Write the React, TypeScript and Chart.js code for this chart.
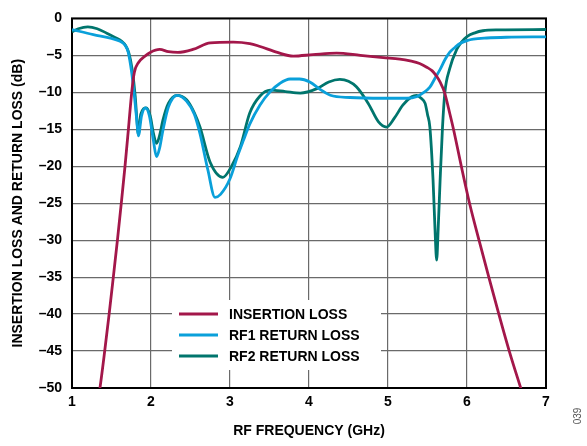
import React, { useEffect, useRef } from "react";
import { Chart, registerables } from "chart.js";

Chart.register(...registerables);

const insertionFreq = [1.31, 1.354, 1.414, 1.470, 1.523, 1.575, 1.624, 1.671, 1.714, 1.756, 1.789, 1.84, 1.924, 1.99, 2.11, 2.22, 2.34, 2.53, 2.75, 3.04, 3.25, 3.38, 3.60, 3.80, 4.05, 4.35, 4.65, 4.94, 5.15, 5.28, 5.40, 5.49, 5.56, 5.62, 5.658, 5.715, 5.785, 5.829, 5.928, 6.032, 6.152, 6.276, 6.403, 6.535, 6.680, 6.718];
const insertionLoss = [-53, -50, -45, -40, -35, -30, -25, -20, -15, -10, -7.3, -6.0, -5.1, -4.6, -4.2, -4.5, -4.6, -4.2, -3.3, -3.2, -3.4, -3.8, -4.6, -5.1, -4.9, -4.7, -5.0, -5.3, -5.5, -5.75, -6.1, -6.6, -7.1, -7.9, -8.6, -10.0, -13.0, -15.0, -20.0, -25.0, -30.0, -35.0, -40.0, -45.0, -50.0, -51.3];

const rf1Freq = [1.0, 1.27, 1.50, 1.61, 1.67, 1.71, 1.755, 1.79, 1.82, 1.84, 1.88, 1.93, 1.98, 2.03, 2.07, 2.11, 2.15, 2.22, 2.33, 2.45, 2.55, 2.62, 2.72, 2.81, 2.88, 3.0, 3.10, 3.17, 3.25, 3.38, 3.51, 3.63, 3.76, 3.88, 4.01, 4.14, 4.27, 4.52, 4.94, 5.24, 5.36, 5.44, 5.53, 5.60, 5.66, 5.72, 5.78, 5.85, 5.91, 6.0, 6.08, 6.25, 6.5, 7.0];
const rf1ReturnLoss = [-1.5, -2.2, -2.7, -3.1, -3.6, -4.5, -7.3, -10.5, -13.8, -15.9, -13.2, -12.1, -13.2, -16.5, -18.7, -17.5, -15.2, -12.0, -10.4, -11.2, -13.0, -15.6, -20.5, -24.2, -23.8, -21.7, -18.5, -16.5, -14.3, -11.7, -9.9, -8.8, -8.2, -8.2, -8.6, -9.6, -10.4, -10.7, -10.8, -10.8, -10.6, -10.1, -9.3, -8.0, -6.9, -5.6, -4.6, -3.9, -3.4, -3.0, -2.8, -2.65, -2.55, -2.5];

const rf2Freq = [1.0, 1.08, 1.20, 1.32, 1.44, 1.55, 1.63, 1.68, 1.72, 1.76, 1.80, 1.82, 1.84, 1.87, 1.94, 1.99, 2.03, 2.07, 2.11, 2.15, 2.22, 2.33, 2.45, 2.55, 2.62, 2.75, 2.91, 3.02, 3.13, 3.25, 3.38, 3.51, 3.70, 3.89, 4.10, 4.25, 4.39, 4.50, 4.60, 4.75, 4.88, 4.98, 5.08, 5.19, 5.30, 5.36, 5.42, 5.47, 5.50, 5.53, 5.57, 5.595, 5.616, 5.635, 5.66, 5.69, 5.72, 5.78, 5.87, 5.93, 6.0, 6.10, 6.20, 6.4, 7.0];
const rf2ReturnLoss = [-1.8, -1.4, -1.15, -1.4, -2.0, -2.6, -3.1, -3.7, -4.7, -6.8, -10.5, -13.5, -15.7, -13.0, -12.1, -13.2, -15.5, -16.9, -15.8, -13.8, -11.5, -10.4, -11.0, -12.8, -14.7, -19.5, -21.5, -20.0, -17.4, -12.8, -10.5, -9.7, -9.9, -10.1, -9.5, -8.6, -8.25, -8.5, -9.25, -11.5, -14.0, -14.7, -13.5, -11.7, -10.6, -10.4, -10.8, -11.5, -13.0, -14.7, -21.8, -28.5, -32.7, -28.5, -21.8, -14.7, -10.0, -6.84, -4.2, -3.2, -2.45, -1.95, -1.67, -1.55, -1.5];

const seriesNames = ["INSERTION LOSS", "RF1 RETURN LOSS", "RF2 RETURN LOSS"];
const seriesColors = ["#a3174a", "#0aa0da", "#00756d"];

const xTicks = [1, 2, 3, 4, 5, 6, 7];
const yTicks = [0, -5, -10, -15, -20, -25, -30, -35, -40, -45, -50];

const FONT = '"Liberation Sans", Arial, sans-serif';

const toPoints = (xs: number[], ys: number[]) => xs.map((x, i) => ({ x, y: ys[i] }));

export default function App() {
  const ref = useRef<HTMLCanvasElement | null>(null);

  useEffect(() => {
    const canvas = ref.current;
    if (!canvas) return;

    const framePlugin = {
      id: "frameAndLegend",
      beforeDatasetsDraw(chart: any) {
        const { ctx, chartArea } = chart;
        ctx.save();
        ctx.fillStyle = "#ffffff";
        ctx.fillRect(172, 300, 209, 70);
        ctx.strokeStyle = "#000000";
        ctx.lineWidth = 2;
        ctx.strokeRect(chartArea.left, chartArea.top, chartArea.right - chartArea.left, chartArea.bottom - chartArea.top);
        const ys = [314, 335, 356];
        ctx.font = `bold 14px ${FONT}`;
        ctx.textBaseline = "middle";
        ctx.textAlign = "left";
        seriesNames.forEach((name, i) => {
          ctx.strokeStyle = seriesColors[i];
          ctx.lineWidth = 3;
          ctx.beginPath();
          ctx.moveTo(179, ys[i]);
          ctx.lineTo(218, ys[i]);
          ctx.stroke();
          ctx.fillStyle = "#000000";
          ctx.fillText(name, 229, ys[i] + 1);
        });
        ctx.restore();
      },
      afterDraw(chart: any) {
        const { ctx } = chart;
        ctx.save();
        ctx.translate(578, 416);
        ctx.rotate(-Math.PI / 2);
        ctx.font = `10px ${FONT}`;
        ctx.fillStyle = "#555555";
        ctx.textAlign = "center";
        ctx.textBaseline = "middle";
        ctx.fillText("039", 0, 0);
        ctx.restore();
      },
    };

    const chart = new Chart(canvas, {
      type: "line",
      data: {
        datasets: [
          { label: seriesNames[0], data: toPoints(insertionFreq, insertionLoss), borderColor: seriesColors[0] },
          { label: seriesNames[1], data: toPoints(rf1Freq, rf1ReturnLoss), borderColor: seriesColors[1] },
          { label: seriesNames[2], data: toPoints(rf2Freq, rf2ReturnLoss), borderColor: seriesColors[2] },
        ].map((d) => ({
          ...d,
          borderWidth: 2.8,
          pointRadius: 0,
          fill: false,
          cubicInterpolationMode: "monotone" as const,
        })),
      },
      options: {
        responsive: false,
        animation: false,
        layout: { padding: { left: 0, right: 41, top: 8, bottom: 0 } },
        plugins: { legend: { display: false }, tooltip: { enabled: false } },
        scales: {
          x: {
            type: "linear",
            min: 1,
            max: 7,
            afterBuildTicks: (scale: any) => {
              scale.ticks = xTicks.map((v) => ({ value: v }));
            },
            afterFit: (scale: any) => {
              scale.height = 58;
            },
            ticks: {
              color: "#000",
              font: { family: FONT, size: 14, weight: "bold" },
              padding: 6,
              maxRotation: 0,
            },
            grid: { color: "#6a6a6a", lineWidth: 1.2, drawTicks: false },
            border: { display: false },
            title: {
              display: true,
              text: "RF FREQUENCY (GHz)",
              color: "#000",
              font: { family: FONT, size: 14, weight: "bold" },
              padding: { top: 0, bottom: 6 },
            },
          },
          y: {
            type: "linear",
            min: -50,
            max: 0,
            afterBuildTicks: (scale: any) => {
              scale.ticks = yTicks.map((v) => ({ value: v }));
            },
            afterFit: (scale: any) => {
              scale.width = 72;
            },
            ticks: {
              color: "#000",
              font: { family: FONT, size: 14, weight: "bold" },
              padding: 10,
              callback: (v: any) => String(v).replace("-", "\u2013"),
            },
            grid: { color: "#6a6a6a", lineWidth: 1.2, drawTicks: false },
            border: { display: false },
            title: {
              display: true,
              text: "INSERTION LOSS AND RETURN LOSS (dB)",
              color: "#000",
              font: { family: FONT, size: 14, weight: "bold" },
              padding: { top: 10, bottom: 0 },
            },
          },
        },
      },
      plugins: [framePlugin],
    } as any);

    return () => chart.destroy();
  }, []);

  return (
    <div style={{ position: "absolute", left: 0, top: 0, width: 587, height: 446, background: "#fff" }}>
      <canvas ref={ref} width={587} height={446} style={{ display: "block" }} />
    </div>
  );
}
